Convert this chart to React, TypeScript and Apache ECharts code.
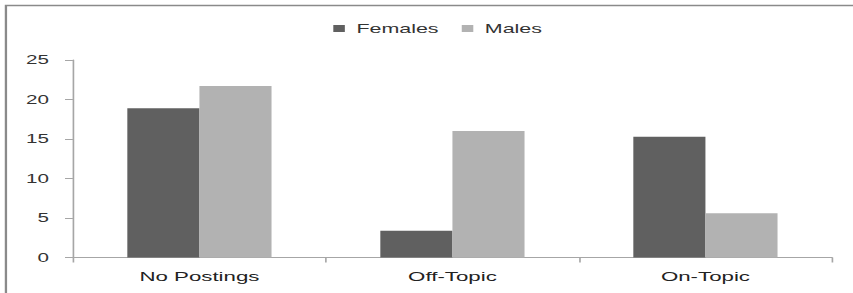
import React, { useEffect, useRef } from "react";
import * as echarts from "echarts";

const categories = ["No Postings", "Off-Topic", "On-Topic"];
const femalesValues = [18.9, 3.4, 15.3];
const malesValues = [21.7, 16.0, 5.6];
const yTicks = { min: 0, max: 25, interval: 5 };

const STRETCH = 1.65;
const W = 853 / STRETCH;
const H = 293;

export default function App() {
  const ref = useRef<HTMLDivElement>(null);
  useEffect(() => {
    if (!ref.current) return;
    const chart = echarts.init(ref.current, undefined, { renderer: "svg", width: W, height: H });
    const font = "'Liberation Sans', Arial, sans-serif";
    chart.setOption({
      animation: false,
      backgroundColor: "#ffffff",
      textStyle: { fontFamily: font },
      graphic: [
        {
          type: "rect",
          shape: { x: 3.6, y: 5.5, width: W + 20, height: H + 20 },
          style: { fill: "none", stroke: "#8a8a8a", lineWidth: 1.4 },
          silent: true,
        },
      ],
      legend: {
        left: 202,
        top: 22,
        padding: 0,
        itemWidth: 7,
        itemHeight: 7,
        itemGap: 14,
        icon: "rect",
        textStyle: { fontSize: 13, color: "#333333", fontFamily: font, padding: [0, 0, 0, 2] },
        data: ["Females", "Males"],
      },
      grid: { left: 44.2, right: W - 504.2, top: 60, bottom: 35.5, containLabel: false },
      xAxis: {
        type: "category",
        data: categories,
        axisLine: { show: true, lineStyle: { color: "#a6a6a6", width: 1.2 } },
        axisTick: { show: true, length: 5, lineStyle: { color: "#a6a6a6" } },
        axisLabel: { fontSize: 13.5, color: "#222222", margin: 12, fontFamily: font },
        splitLine: { show: false },
      },
      yAxis: {
        type: "value",
        min: yTicks.min,
        max: yTicks.max,
        interval: yTicks.interval,
        axisLine: { show: true, lineStyle: { color: "#a6a6a6", width: 1 } },
        axisTick: { show: true, length: 4.8, lineStyle: { color: "#a6a6a6" } },
        axisLabel: { fontSize: 12.5, color: "#333333", margin: 14.5, fontFamily: font },
        splitLine: { show: false },
      },
      series: [
        {
          name: "Females",
          type: "bar",
          data: femalesValues,
          barGap: "0%",
          barCategoryGap: "43%",
          itemStyle: { color: "#606060" },
        },
        {
          name: "Males",
          type: "bar",
          data: malesValues,
          barGap: "0%",
          barCategoryGap: "43%",
          itemStyle: { color: "#b2b2b2" },
        },
      ],
    });
    return () => chart.dispose();
  }, []);
  return (
    <div
      ref={ref}
      style={{
        position: "absolute",
        left: 0,
        top: 0,
        width: W,
        height: H,
        transform: `scaleX(${STRETCH})`,
        transformOrigin: "0 0",
      }}
    />
  );
}
